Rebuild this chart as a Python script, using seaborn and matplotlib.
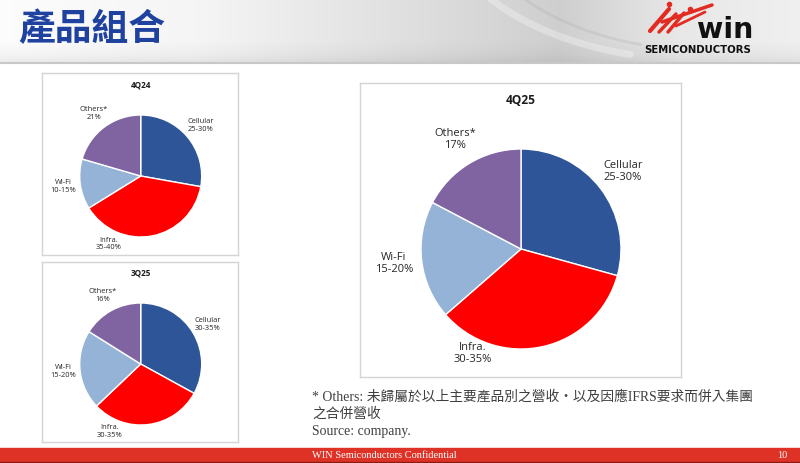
import numpy as np
import matplotlib
matplotlib.use("Agg")
import matplotlib.pyplot as plt
import seaborn as sns

# data (share of revenue, clockwise from 12 o'clock)
categories = ["Cellular", "Infra.", "Wi-Fi", "Others*"]
share_4q24 = [27.8, 38.4, 13.3, 20.5]
share_3q25 = [33.0, 29.9, 21.0, 16.1]
share_4q25 = [29.3, 34.3, 19.1, 17.3]
range_4q24 = ["25-30%", "35-40%", "10-15%", "21%"]
range_3q25 = ["30-35%", "30-35%", "15-20%", "16%"]
range_4q25 = ["25-30%", "30-35%", "15-20%", "17%"]

sns.set_theme(style="white")
palette = sns.color_palette(["#2E5597", "#FF0000", "#95B3D7", "#8064A2"])
plt.rcParams["font.family"] = ["Open Sans", "Noto Sans CJK TC"]

W, H = 800, 463
fig = plt.figure(figsize=(8, 4.63), dpi=100)


def px_axes(x0, y0, x1, y1):
    return fig.add_axes([x0 / W, 1 - y1 / H, (x1 - x0) / W, (y1 - y0) / H])


# slide background / header
bg = fig.add_axes([0, 0, 1, 1])
bg.set_xlim(0, W)
bg.set_ylim(H, 0)
bg.axis("off")
xs = np.arange(W)
tone = np.interp(xs, [0, 200, 420, 560, 680, 800], [0.99, 0.96, 0.87, 0.81, 0.91, 0.94])
ys = np.arange(63)
vert = np.interp(ys, [0, 40, 54, 62], [1.0, 1.0, 0.97, 0.93])
grad = np.clip(np.outer(vert, tone), 0, 1)
bg.imshow(np.dstack([grad] * 3), extent=(0, W, 63, 0), aspect="auto", zorder=0)
theta = np.linspace(0.2, 1.3, 60)
bg.plot(700 - 260 * np.cos(theta), -90 + 150 * np.sin(theta), color="white", lw=5, alpha=0.3)
bg.plot(705 - 240 * np.cos(theta), -100 + 150 * np.sin(theta), color="#b0b0b0", lw=2, alpha=0.3)
bg.axhline(63, color="#c8c8c8", lw=1.5)
bg.text(18, 30, "產品組合", fontsize=26.5, fontweight="bold", color="#1f42a0",
        family=["Noto Sans CJK TC"], va="center", ha="left")

# logo
for (a, b), (c, d), w in [((650, 31), (669, 9), 3.0), ((659, 32), (676, 14), 2.5),
                          ((668, 32), (684, 13), 2.5), ((662, 22), (712, 5), 2.5),
                          ((676, 26), (705, 12), 2.0)]:
    bg.plot([a, c], [b, d], color="#e32b22", lw=w, solid_capstyle="round")
bg.plot([669, 690], [4, 9], "o", color="#e32b22", ms=3)
bg.text(725, 38, "win", fontsize=20.5, fontweight="bold", color="#111111",
        family=["DejaVu Sans"], ha="center", va="baseline")
bg.text(698, 50, "SEMICONDUCTORS", fontsize=7.3, fontweight="bold", color="#111111",
        family=["DejaVu Sans"], ha="center", va="center")

# footer
bg.add_patch(plt.Rectangle((0, 448), W, 15, color="#df3226", zorder=2))
bg.axhline(462, color="#8a1a12", lw=1, zorder=3)
bg.text(312, 455, "WIN Semiconductors Confidential", fontsize=7.5, color="white",
        family=["Liberation Serif"], va="center", ha="left", zorder=4)
bg.text(782, 455, "10", fontsize=7.5, color="white",
        family=["Liberation Serif"], va="center", ha="center", zorder=4)

# footnote
note_font = ["Liberation Serif", "Noto Sans CJK TC"]
bg.text(312, 397, "* Others: 未歸屬於以上主要產品別之營收・以及因應IFRS要求而併入集團",
        fontsize=9.9, color="#3f3f3f", family=note_font, va="center", ha="left")
bg.text(312, 414, "之合併營收", fontsize=9.9, color="#3f3f3f", family=note_font,
        va="center", ha="left")
bg.text(312, 431, "Source: company.", fontsize=9.9, color="#3f3f3f", family=note_font,
        va="center", ha="left")


def draw_pie(box, center, radius, values, ranges, title, title_y, fs, tfs, infra_dist):
    x0, y0, x1, y1 = box
    ax = px_axes(x0, y0, x1, y1)
    labels = [f"{c}\n{r}" for c, r in zip(categories, ranges)]
    cx, cy = center[0] - x0, y1 - center[1]
    wedges, texts = ax.pie(
        values, labels=labels, colors=palette, startangle=90, counterclock=False,
        radius=radius, center=(cx, cy), labeldistance=1.28, frame=True,
        wedgeprops=dict(edgecolor="white", linewidth=1.0),
        textprops=dict(fontsize=fs, color="#262626", linespacing=1.15),
    )
    for t in texts:
        t.set_ha("center")
        t.set_va("center")
    # Infra. label sits lower-left of its wedge, as on the slide
    ang = np.deg2rad(205)
    texts[1].set_position((cx + radius * infra_dist * np.sin(ang),
                           cy + radius * infra_dist * np.cos(ang)))
    ax.set_xlim(0, x1 - x0)
    ax.set_ylim(0, y1 - y0)
    ax.set_aspect("auto")
    ax.set_xticks([])
    ax.set_yticks([])
    for s in ax.spines.values():
        s.set_visible(True)
        s.set_color("#d4d4d4")
        s.set_linewidth(1.0)
    ax.text(center[0] - x0, y1 - title_y, title, fontsize=tfs, fontweight="bold",
            color="#1a1a1a", ha="center", va="center")
    return ax


draw_pie((42, 73, 238, 255), (140.7, 176), 61, share_4q24, range_4q24, "4Q24", 85, 5.4, 5.9, 1.23)
draw_pie((42, 262, 238, 442), (140.7, 364), 61, share_3q25, range_3q25, "3Q25", 273, 5.4, 5.9, 1.22)
draw_pie((360, 83, 681, 377), (521, 249), 100, share_4q25, range_4q25, "4Q25", 100, 8.0, 8.6, 1.15)

fig.savefig("out.png", dpi=100)
